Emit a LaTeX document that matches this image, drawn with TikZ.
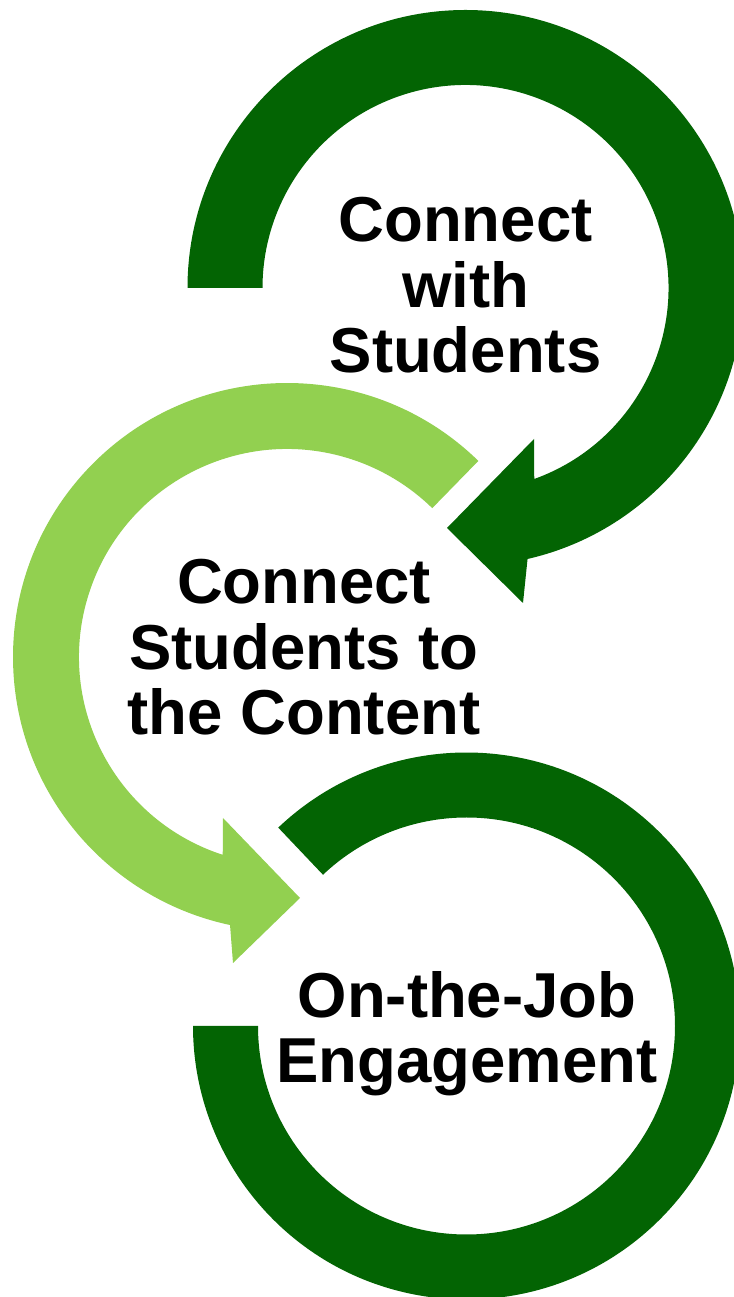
\documentclass[tikz,border=0pt]{standalone}
\usepackage{fontspec}
\setmainfont{Liberation Sans}
\usepackage{tikz}
\definecolor{arcdark}{RGB}{3,100,3}
\definecolor{arclight}{RGB}{146,208,80}

\begin{document}
\begin{tikzpicture}[x=0.5pt, y=0.5pt,
  steptext/.style={align=center, anchor=base, inner sep=0pt,
    font=\fontsize{31.75}{32.75}\selectfont\bfseries}]
  \useasboundingbox (0,0) rectangle (734,1297);
  \clip (0,0) rectangle (734,1297);

  % Ring centres
  \coordinate (T) at (465.5,1009);
  \coordinate (M) at (287,640);
  \coordinate (B) at (466.5,271);

  % Bottom ring, no head
  \fill[arcdark] ([shift={(133.5:273.5)}]B) arc[start angle=133.5, end angle=-180, radius=273.5]
    -- ([shift={(180:208.5)}]B) arc[start angle=-180, end angle=133.5, radius=208.5] -- cycle;

  % Middle ring with head
  \fill[arclight] ([shift={(45.7:274)}]M) arc[start angle=45.7, end angle=258, radius=274]
    -- (233,334) -- (300,399) -- (223,479)
    -- ([shift={(252:208)}]M) arc[start angle=252, end angle=45.7, radius=208] -- cycle;

  % Top ring with head
  \fill[arcdark] ([shift={(180:278)}]T) arc[start angle=180, end angle=-77.1, radius=278]
    -- (523,694) -- (447,769) -- (534,858)
    -- ([shift={(-70.2:203)}]T) arc[start angle=-70.2, end angle=180, radius=203] -- cycle;

  % Texts (base = last line)
  \node[steptext] (connect) at (465.5,924) {Connect\\with\\Students};
  \node[steptext] (content) at (304,562) {Connect\\Students to\\the Content};
  \node[steptext] (job) at (467,214) {On-the-Job\\Engagement};
\end{tikzpicture}
\end{document}
